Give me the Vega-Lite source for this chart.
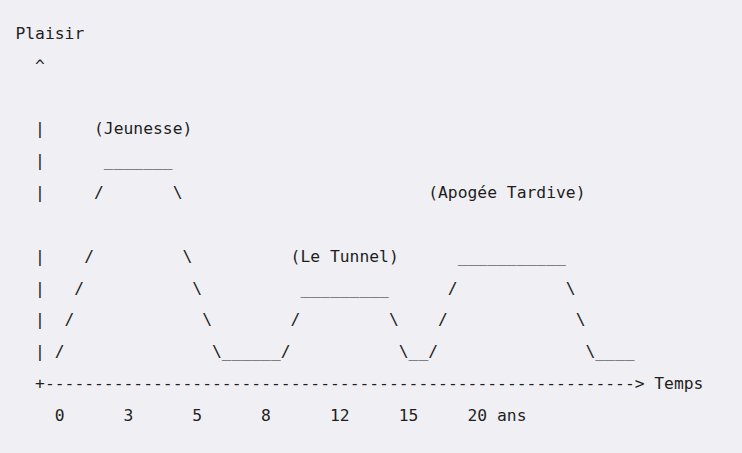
{
  "$schema": "https://vega.github.io/schema/vega-lite/v6.json",
  "width": 688,
  "height": 382,
  "autosize": {"type": "none"},
  "padding": {"left": 15.4, "top": 38.9, "right": 38.6, "bottom": 32.1},
  "background": "#f0f0f4",
  "config": {"view": {"stroke": null}},
  "data": {
    "values": [
      {"row": 0, "col": 0, "text": "Plaisir"},
      {"row": 1, "col": 2, "text": "^"},
      {"row": 3, "col": 2, "text": "|"},
      {"row": 3, "col": 8, "text": "(Jeunesse)"},
      {"row": 4, "col": 2, "text": "|"},
      {"row": 4, "col": 9, "text": "_______"},
      {"row": 5, "col": 2, "text": "|"},
      {"row": 5, "col": 8, "text": "/"},
      {"row": 5, "col": 16, "text": "\\"},
      {"row": 5, "col": 42, "text": "(Apogée Tardive)"},
      {"row": 7, "col": 2, "text": "|"},
      {"row": 7, "col": 7, "text": "/"},
      {"row": 7, "col": 17, "text": "\\"},
      {"row": 7, "col": 28, "text": "(Le Tunnel)"},
      {"row": 7, "col": 45, "text": "___________"},
      {"row": 8, "col": 2, "text": "|"},
      {"row": 8, "col": 6, "text": "/"},
      {"row": 8, "col": 18, "text": "\\"},
      {"row": 8, "col": 29, "text": "_________"},
      {"row": 8, "col": 44, "text": "/"},
      {"row": 8, "col": 56, "text": "\\"},
      {"row": 9, "col": 2, "text": "|"},
      {"row": 9, "col": 5, "text": "/"},
      {"row": 9, "col": 19, "text": "\\"},
      {"row": 9, "col": 28, "text": "/"},
      {"row": 9, "col": 38, "text": "\\"},
      {"row": 9, "col": 43, "text": "/"},
      {"row": 9, "col": 57, "text": "\\"},
      {"row": 10, "col": 2, "text": "|"},
      {"row": 10, "col": 4, "text": "/"},
      {"row": 10, "col": 20, "text": "\\______/"},
      {"row": 10, "col": 39, "text": "\\__/"},
      {"row": 10, "col": 58, "text": "\\____"},
      {"row": 11, "col": 2, "text": "+------------------------------------------------------------>"},
      {"row": 11, "col": 65, "text": "Temps"},
      {"row": 12, "col": 4, "text": "0"},
      {"row": 12, "col": 11, "text": "3"},
      {"row": 12, "col": 18, "text": "5"},
      {"row": 12, "col": 25, "text": "8"},
      {"row": 12, "col": 32, "text": "12"},
      {"row": 12, "col": 39, "text": "15"},
      {"row": 12, "col": 46, "text": "20 ans"}
    ]
  },
  "mark": {
    "type": "text",
    "font": "DejaVu Sans Mono",
    "fontSize": 16.33,
    "align": "left",
    "baseline": "alphabetic",
    "color": "#1e1e1e"
  },
  "encoding": {
    "x": {"field": "col", "type": "quantitative", "scale": {"domain": [0, 70], "nice": false, "zero": false}, "axis": null},
    "y": {"field": "row", "type": "quantitative", "scale": {"domain": [0, 12], "nice": false, "zero": false, "reverse": true}, "axis": null},
    "text": {"field": "text"}
  }
}
